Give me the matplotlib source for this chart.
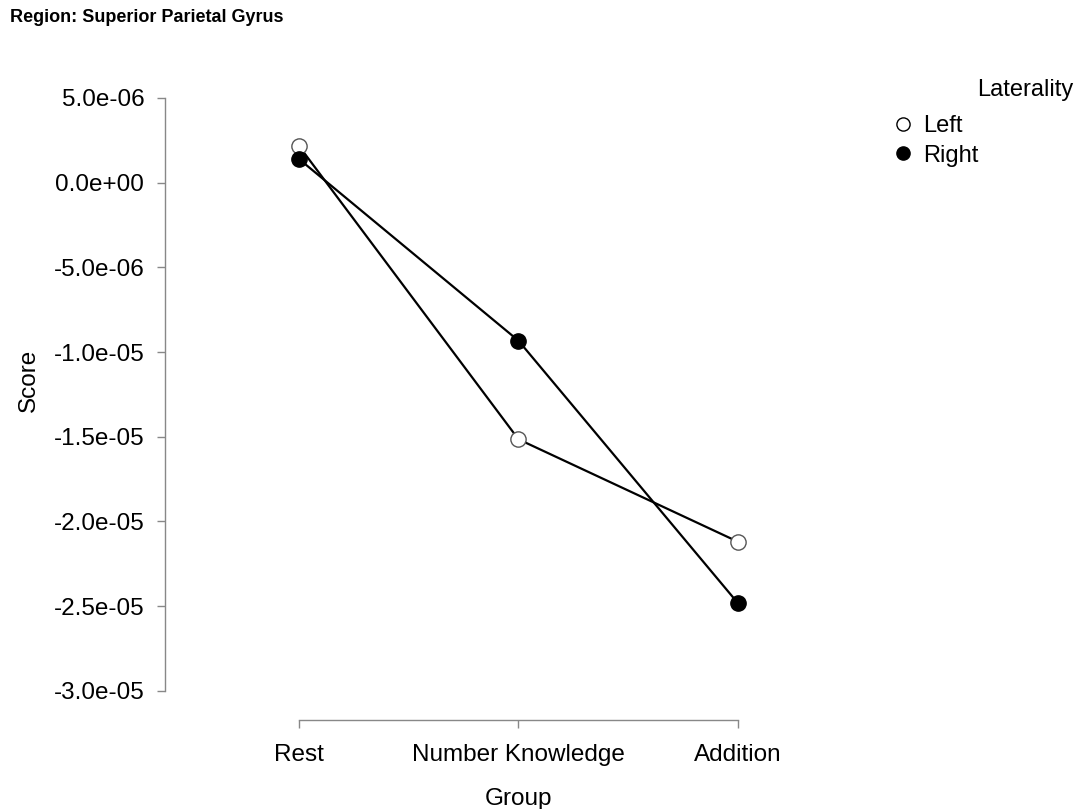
import numpy as np
import matplotlib
matplotlib.use("Agg")
import matplotlib.pyplot as plt
from matplotlib.lines import Line2D

plt.rcParams['font.family'] = ['Liberation Sans', 'DejaVu Sans']

groups = ["Rest", "Number Knowledge", "Addition"]
left_scores = [2.17e-6, -1.515e-5, -2.12e-5]
right_scores = [1.40e-6, -9.33e-6, -2.483e-5]
yticks = [5e-6, 0, -5e-6, -1e-5, -1.5e-5, -2e-5, -2.5e-5, -3e-5]
ytick_labels = ["5.0e-06", "0.0e+00", "-5.0e-06", "-1.0e-05", "-1.5e-05",
                "-2.0e-05", "-2.5e-05", "-3.0e-05"]

W, H = 1079, 809
fig = plt.figure(figsize=(W / 100, H / 100), dpi=100)
# axes box in pixels: left 165, right 850, top 80, bottom 720
ax = fig.add_axes([165 / W, (H - 720) / H, (850 - 165) / W, (720 - 80) / H])

x = np.arange(len(groups))
ax.plot(x, left_scores, color="black", lw=1.6, marker="o", ms=11,
        mfc="white", mec="#555555", mew=1.0, zorder=3)
ax.plot(x, right_scores, color="black", lw=1.6, marker="o", ms=11,
        mfc="black", mec="black", mew=1.0, zorder=3)

ax.set_xlim(-0.61, 2.51)
ax.set_ylim(-3.172e-5, 6.06e-6)

for s in ["top", "right"]:
    ax.spines[s].set_visible(False)
for s in ["left", "bottom"]:
    ax.spines[s].set_color("#888888")
    ax.spines[s].set_linewidth(1.0)
ax.spines["left"].set_bounds(-3e-5, 5e-6)
ax.spines["bottom"].set_bounds(0, 2)

ax.set_xticks(x)
ax.set_xticklabels(groups, fontsize=17.5)
ax.set_yticks(yticks)
ax.set_yticklabels(ytick_labels, fontsize=17.5)
ax.tick_params(axis="both", color="#888888", length=6, width=1.0)
ax.tick_params(axis="y", pad=9)
ax.tick_params(axis="x", pad=11.6)

ax.set_xlabel("Group", fontsize=17.5, labelpad=15.6)
ax.set_ylabel("Score", fontsize=17.5, labelpad=10)
ax.xaxis.label.set_x(0.516)
ax.yaxis.label.set_y(0.531)

fig.text(10 / W, 1 - 17 / H, "Region: Superior Parietal Gyrus",
         fontsize=13, fontweight="bold", ha="left", va="center")

fig.text(1073 / W, 1 - 90 / H, "Laterality", fontsize=17, ha="right", va="center")
handles = [Line2D([], [], ls="none", marker="o", ms=9.5, mfc="white", mec="black", mew=1.0),
           Line2D([], [], ls="none", marker="o", ms=9.5, mfc="black", mec="black", mew=1.0)]
fig.legend(handles, ["Left", "Right"], loc="upper left",
           bbox_to_anchor=(894 / W, 1 - 115 / H), frameon=False, fontsize=17,
           handlelength=0.8, handletextpad=0.45, labelspacing=0.32,
           borderpad=0, borderaxespad=0)

fig.savefig("out.png", dpi=100)
